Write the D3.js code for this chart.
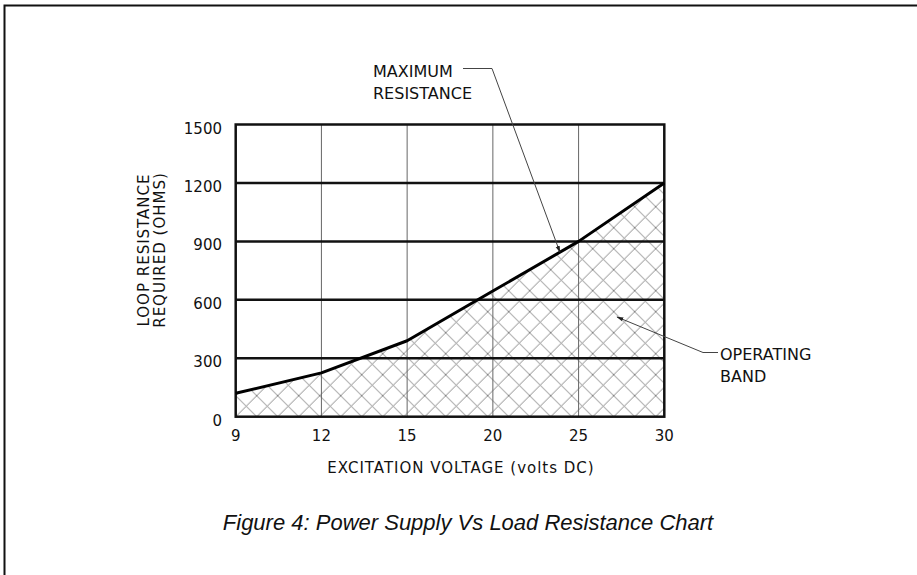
<!DOCTYPE html>
<html>
<head>
<meta charset="utf-8">
<script src="https://cdnjs.cloudflare.com/ajax/libs/d3/7.8.5/d3.min.js"></script>
<style>
  body { margin: 0; background: #fff; }
  svg text { font-family: "DejaVu Sans", sans-serif; fill: #111; }
</style>
</head>
<body>
<div id="chart"></div>
<script>
var voltages = ["9", "12", "15", "20", "25", "30"];
var maxResistance = [120, 225, 390, 645, 900, 1200];
var yTicks = [0, 300, 600, 900, 1200, 1500];

var width = 917, height = 575;
var plot = { left: 235.7, right: 664.3, top: 124.5, bottom: 416.7 };

var svg = d3.select('#chart')
  .append('svg')
  .attr('width', width)
  .attr('height', height);

var x = d3.scalePoint().domain(voltages).range([plot.left, plot.right]);
var y = d3.scaleLinear().domain([0, 1500]).range([plot.bottom, plot.top]);

var data = voltages.map(function(v, i) { return { v: v, r: maxResistance[i] }; });

var defs = svg.append('defs');

// cross hatch for the operating band
var hatch = defs.append('pattern')
  .attr('id', 'hatch')
  .attr('patternUnits', 'userSpaceOnUse')
  .attr('x', plot.left)
  .attr('y', plot.bottom)
  .attr('width', 21)
  .attr('height', 21);
hatch.append('path')
  .attr('d', 'M0,0L21,21M0,21L21,0M-1,1L1,-1M20,22L22,20M-1,20L1,22M20,-1L22,1')
  .attr('stroke', '#7a7a7a')
  .attr('stroke-width', 0.9)
  .attr('fill', 'none');

defs.append('marker')
  .attr('id', 'arrow')
  .attr('viewBox', '0 0 10 10')
  .attr('refX', 9).attr('refY', 5)
  .attr('markerWidth', 7).attr('markerHeight', 7)
  .attr('markerUnits', 'userSpaceOnUse')
  .attr('orient', 'auto')
  .append('path')
  .attr('d', 'M0,2L10,5L0,8Z')
  .attr('fill', '#222');

// outer frame (top and left only)
svg.append('path')
  .attr('d', 'M4.5,575V5.5H917')
  .attr('stroke', '#111')
  .attr('stroke-width', 2)
  .attr('fill', 'none');

var area = d3.area()
  .x(function(d) { return x(d.v); })
  .y0(y(0))
  .y1(function(d) { return y(d.r); });

svg.append('path')
  .datum(data)
  .attr('d', area)
  .attr('fill', 'url(#hatch)');

// vertical grid
svg.append('g')
  .selectAll('line')
  .data(voltages.slice(1, -1))
  .enter()
  .append('line')
  .attr('x1', function(d) { return x(d); })
  .attr('x2', function(d) { return x(d); })
  .attr('y1', plot.top)
  .attr('y2', plot.bottom)
  .attr('stroke', '#666')
  .attr('stroke-width', 1);

// horizontal grid, heavy
svg.append('g')
  .selectAll('line')
  .data(yTicks.slice(1, -1))
  .enter()
  .append('line')
  .attr('x1', plot.left)
  .attr('x2', plot.right)
  .attr('y1', function(d) { return y(d); })
  .attr('y2', function(d) { return y(d); })
  .attr('stroke', '#111')
  .attr('stroke-width', 2.5);

svg.append('rect')
  .attr('x', plot.left)
  .attr('y', plot.top)
  .attr('width', plot.right - plot.left)
  .attr('height', plot.bottom - plot.top)
  .attr('fill', 'none')
  .attr('stroke', '#111')
  .attr('stroke-width', 2.5);

var line = d3.line()
  .x(function(d) { return x(d.v); })
  .y(function(d) { return y(d.r); });

svg.append('path')
  .datum(data)
  .attr('d', line)
  .attr('fill', 'none')
  .attr('stroke', '#000')
  .attr('stroke-width', 3)
  .attr('stroke-linejoin', 'round');

// tick labels
svg.append('g')
  .selectAll('text')
  .data(yTicks)
  .enter()
  .append('text')
  .attr('x', 222)
  .attr('y', function(d) { return y(d) + 9; })
  .attr('text-anchor', 'end')
  .style('font-size', '15px')
  .text(function(d) { return d; });

svg.append('g')
  .selectAll('text')
  .data(voltages)
  .enter()
  .append('text')
  .attr('x', function(d) { return x(d); })
  .attr('y', 441)
  .attr('text-anchor', 'middle')
  .style('font-size', '15px')
  .text(function(d) { return d; });

svg.append('text')
  .attr('x', 461)
  .attr('y', 473)
  .attr('text-anchor', 'middle')
  .style('font-size', '15px')
  .style('letter-spacing', '1px')
  .text('EXCITATION VOLTAGE (volts DC)');

var ylab = svg.append('text')
  .attr('transform', 'translate(144,250) rotate(-90)')
  .attr('text-anchor', 'middle')
  .style('font-size', '15px')
  .style('letter-spacing', '1px');
ylab.append('tspan').attr('x', 0).attr('dy', 5).text('LOOP RESISTANCE');
ylab.append('tspan').attr('x', 0).attr('dy', 16).text('REQUIRED (OHMS)');

// callouts
var maxLab = svg.append('text').style('font-size', '16px');
maxLab.append('tspan').attr('x', 373).attr('y', 77).text('MAXIMUM');
maxLab.append('tspan').attr('x', 373).attr('y', 99).text('RESISTANCE');

svg.append('path')
  .attr('d', 'M463,68.5H492L' + (x('20') + 67) + ',' + (y(845)))
  .attr('stroke', '#444')
  .attr('stroke-width', 1)
  .attr('fill', 'none')
  .attr('marker-end', 'url(#arrow)');

var opLab = svg.append('text').style('font-size', '16px');
opLab.append('tspan').attr('x', 720).attr('y', 360).text('OPERATING');
opLab.append('tspan').attr('x', 720).attr('y', 382).text('BAND');

svg.append('path')
  .attr('d', 'M718,352.5H703L617,317')
  .attr('stroke', '#444')
  .attr('stroke-width', 1)
  .attr('fill', 'none')
  .attr('marker-end', 'url(#arrow)');

svg.append('text')
  .attr('x', 468)
  .attr('y', 530)
  .attr('text-anchor', 'middle')
  .style('font-family', '"Liberation Sans", Arial, sans-serif')
  .style('font-style', 'italic')
  .style('font-size', '22px')
  .text('Figure 4: Power Supply Vs Load Resistance Chart');
</script>
</body>
</html>
